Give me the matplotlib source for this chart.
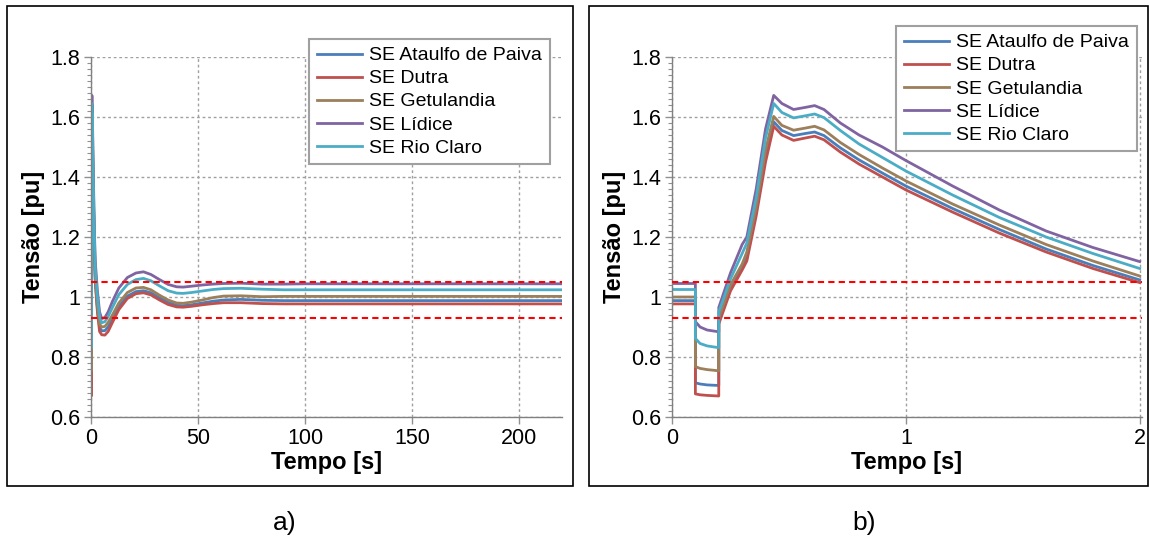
import numpy as np
import matplotlib
matplotlib.use('Agg')
import matplotlib.pyplot as plt
from matplotlib.patches import Rectangle
from matplotlib.ticker import MultipleLocator

plt.rcParams['font.family'] = ['Liberation Sans', 'DejaVu Sans']

# dados (pu)
nomes = ['SE Ataulfo de Paiva', 'SE Dutra', 'SE Getulandia', 'SE Lídice', 'SE Rio Claro']
cores = ['#4a7ebb', '#c0504d', '#9c7f5b', '#8064a2', '#4bacc6']

# primeiros 2 s (figura b)
t_b = [0, 0.1, 0.1, 0.12, 0.15, 0.2, 0.2, 0.25, 0.30, 0.32, 0.36, 0.40, 0.435, 0.47,
       0.52, 0.57, 0.61, 0.65, 0.72, 0.80, 0.90, 1.0, 1.2, 1.4, 1.6, 1.8, 2.0]
ataulfo_b = [0.988, 0.988, 0.714, 0.71, 0.707, 0.705, 0.92, 1.03, 1.10, 1.14, 1.29, 1.47, 1.584, 1.555,
             1.538, 1.545, 1.55, 1.538, 1.497, 1.457, 1.413, 1.37, 1.295, 1.225, 1.16, 1.105, 1.057]
dutra_b = [0.977, 0.977, 0.677, 0.674, 0.672, 0.670, 0.91, 1.02, 1.09, 1.12, 1.27, 1.45, 1.569, 1.54,
           1.522, 1.53, 1.536, 1.524, 1.483, 1.443, 1.40, 1.357, 1.283, 1.213, 1.15, 1.095, 1.048]
getulandia_b = [1.0, 1.0, 0.768, 0.762, 0.758, 0.754, 0.93, 1.04, 1.11, 1.15, 1.30, 1.49, 1.602, 1.572,
                1.556, 1.563, 1.569, 1.557, 1.515, 1.475, 1.43, 1.387, 1.31, 1.24, 1.175, 1.12, 1.07]
lidice_b = [1.045, 1.045, 0.918, 0.90, 0.89, 0.884, 0.965, 1.08, 1.175, 1.20, 1.36, 1.56, 1.672, 1.645,
            1.625, 1.632, 1.638, 1.625, 1.58, 1.54, 1.50, 1.455, 1.37, 1.29, 1.22, 1.165, 1.118]
rioclaro_b = [1.025, 1.025, 0.862, 0.845, 0.837, 0.831, 0.95, 1.06, 1.145, 1.18, 1.33, 1.53, 1.645, 1.615,
              1.597, 1.604, 1.61, 1.598, 1.555, 1.51, 1.465, 1.42, 1.34, 1.265, 1.2, 1.145, 1.095]

# depois de 2 s (figura a)
t_a = [3, 4, 5, 6.5, 8, 10, 13, 17, 21, 24.5, 28, 32, 36, 40, 43, 47, 52, 57, 62, 70, 80, 90, 100, 120, 220]
ataulfo_a = [0.96, 0.90, 0.887, 0.888, 0.90, 0.928, 0.968, 1.003, 1.018, 1.021, 1.014, 0.997, 0.982,
             0.972, 0.971, 0.974, 0.98, 0.986, 0.99, 0.992, 0.989, 0.988, 0.988, 0.988, 0.988]
dutra_a = [0.95, 0.885, 0.874, 0.873, 0.885, 0.915, 0.958, 0.995, 1.011, 1.014, 1.007, 0.99, 0.975,
           0.967, 0.966, 0.969, 0.974, 0.978, 0.981, 0.981, 0.978, 0.977, 0.977, 0.977, 0.977]
getulandia_a = [0.97, 0.91, 0.90, 0.902, 0.915, 0.94, 0.98, 1.015, 1.03, 1.032, 1.024, 1.006, 0.99,
                0.98, 0.979, 0.983, 0.99, 0.998, 1.003, 1.004, 1.001, 1.002, 1.002, 1.002, 1.002]
lidice_a = [1.02, 0.95, 0.928, 0.932, 0.95, 0.985, 1.03, 1.065, 1.08, 1.084, 1.075, 1.058, 1.042,
            1.034, 1.033, 1.036, 1.04, 1.043, 1.045, 1.046, 1.043, 1.043, 1.044, 1.044, 1.044]
rioclaro_a = [1.0, 0.935, 0.914, 0.918, 0.935, 0.965, 1.008, 1.042, 1.058, 1.062, 1.054, 1.037, 1.021,
              1.013, 1.012, 1.015, 1.02, 1.025, 1.028, 1.029, 1.026, 1.024, 1.024, 1.024, 1.024]

limites = [1.05, 0.93]

series_b = [ataulfo_b, dutra_b, getulandia_b, lidice_b, rioclaro_b]
series_a = [ataulfo_a, dutra_a, getulandia_a, lidice_a, rioclaro_a]

W, H = 1150, 537
fig = plt.figure(figsize=(W / 100, H / 100), dpi=100)


def fx(px):
    return px / W


def fy(py):
    return 1 - py / H


def prepara(ax, xmax, xstep):
    ax.set_xlim(0, xmax)
    ax.set_ylim(0.6, 1.8)
    ax.xaxis.set_major_locator(MultipleLocator(xstep))
    ax.yaxis.set_major_locator(MultipleLocator(0.2))
    ax.yaxis.set_minor_locator(MultipleLocator(0.02))
    ax.yaxis.set_major_formatter(matplotlib.ticker.FuncFormatter(lambda v, p: '%g' % round(v, 2)))
    for s in ['top', 'right']:
        ax.spines[s].set_visible(False)
    for s in ['left', 'bottom']:
        ax.spines[s].set_color('#808080')
        ax.spines[s].set_linewidth(1)
    ax.tick_params(which='major', length=5, width=1, color='#909090', labelsize=15.5, pad=3)
    ax.tick_params(which='minor', length=3, width=0.8, color='#909090')
    ax.grid(True, which='major', linestyle=(0, (2, 2)), color='#a0a0a0', linewidth=1)
    ax.set_axisbelow(True)
    ax.set_xlabel('Tempo [s]', fontsize=17, fontweight='bold')
    ax.set_ylabel('Tensão [pu]', fontsize=17, fontweight='bold')
    ax.yaxis.set_label_coords(-0.098, 0.5)
    ax.xaxis.set_label_coords(0.5, -0.094)
    for lim in limites:
        ax.axhline(lim, color='red', linestyle=(0, (3, 2)), linewidth=1.5, zorder=3)


def legenda(ax, x, y):
    leg = ax.legend(loc='upper left', bbox_to_anchor=(fx(x), fy(y)), bbox_transform=fig.transFigure,
                    fontsize=14, frameon=True, fancybox=False, framealpha=1, edgecolor='#a0a0a0',
                    handlelength=2.3, handletextpad=0.4, labelspacing=0.28, borderpad=0.4, borderaxespad=0)
    leg.get_frame().set_linewidth(1.5)


# a)
ax1 = fig.add_axes([fx(91), fy(417), fx(562 - 91), (417 - 57) / H])
for nome, cor, sb, sa in zip(nomes, cores, series_b, series_a):
    ax1.plot(t_b + t_a, sb + sa, color=cor, linewidth=2, label=nome, zorder=2)
prepara(ax1, 220, 50)
legenda(ax1, 309, 39)

# b)
ax2 = fig.add_axes([fx(672), fy(417), fx(1142 - 672), (417 - 57) / H])
for nome, cor, sb in zip(nomes, cores, series_b):
    ax2.plot(t_b, sb, color=cor, linewidth=2, label=nome, zorder=2)
prepara(ax2, 2.01, 1)
legenda(ax2, 896, 26)

# molduras
fig.patches.append(Rectangle((fx(7), fy(486)), fx(573 - 7), (486 - 6) / H, transform=fig.transFigure,
                             fill=False, edgecolor='black', linewidth=1.2))
fig.patches.append(Rectangle((fx(589), fy(486)), fx(1148 - 589), (486 - 6) / H, transform=fig.transFigure,
                             fill=False, edgecolor='black', linewidth=1.2))

fig.text(fx(285), fy(523), 'a)', fontsize=19, ha='center', va='center')
fig.text(fx(864), fy(523), 'b)', fontsize=19, ha='center', va='center')

fig.savefig('out.png', dpi=100)
